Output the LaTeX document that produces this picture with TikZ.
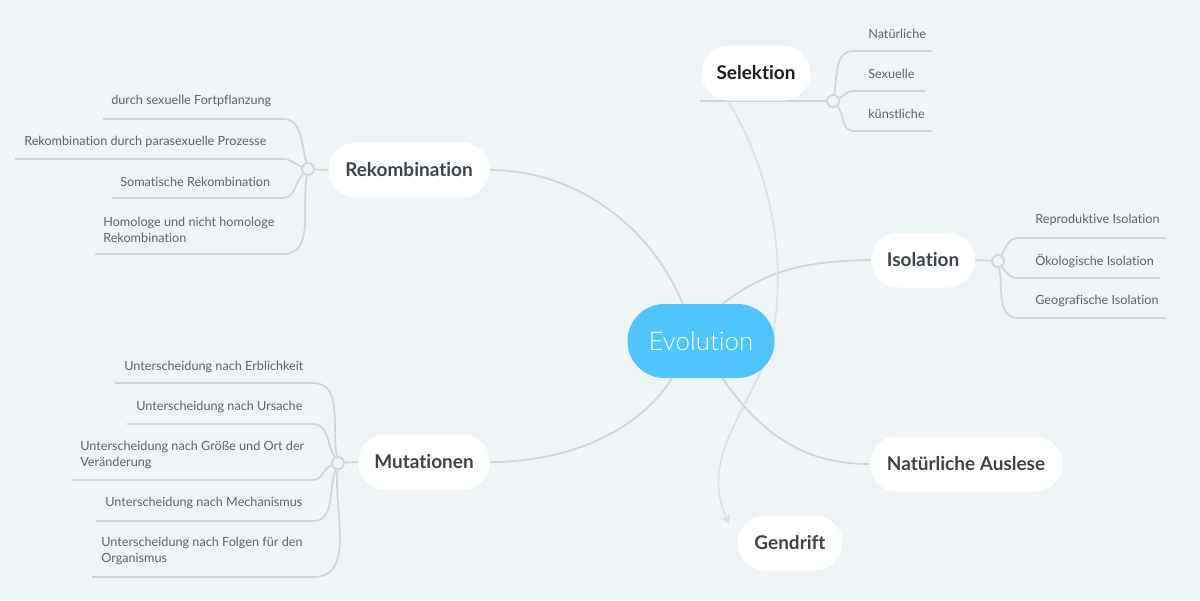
\documentclass[tikz,border=0pt]{standalone}
\usepackage{fontspec}
\setmainfont{Lato}[Ligatures={CommonOff,DiscretionaryOff,ContextualOff}]
\newfontfamily\evofont{Lato Light}[Ligatures={CommonOff,DiscretionaryOff,ContextualOff}]
\usetikzlibrary{arrows.meta,backgrounds}
\definecolor{bg}{RGB}{239,244,247}
\definecolor{linec}{RGB}{208,213,217}
\definecolor{relc}{RGB}{221,225,228}
\definecolor{topictext}{RGB}{60,68,74}
\definecolor{childtext}{RGB}{94,101,107}
\definecolor{evofill}{RGB}{80,196,254}
\begin{document}
\begin{tikzpicture}[x=0.025cm,y=-0.025cm,
  topic/.style={fill=white, rounded corners=0.6875cm, minimum height=1.375cm, inner sep=0pt,
    font=\fontsize{13.5}{16}\selectfont\bfseries, text=topictext},
  evo/.style={fill=evofill, rounded corners=0.925cm, minimum height=1.85cm, minimum width=3.675cm,
    inner sep=0pt, font=\evofont\fontsize{18.4}{21}\selectfont, text=white},
  child/.style={anchor=west, inner sep=0pt, align=left, font=\fontsize{9}{11.3}\selectfont, text=childtext},
  branch/.style={draw=linec, line width=1.2pt},
  rel/.style={draw=relc, line width=1.2pt, -{Stealth[length=0.24cm,width=0.26cm]}},
  hub/.style={circle, draw=linec, fill=bg, line width=1.2pt, minimum size=0.3cm, inner sep=0pt}]
\useasboundingbox (0,0) rectangle (1200,600);

% topics
\node[evo] (evo) at (701,341) {Evolution};
\node[topic, minimum width=4.025cm] (rek) at (409,170) {Rekombination};
\node[topic, minimum width=3.3cm] (mut) at (424,462) {Mutationen};
\node[topic, minimum width=2.725cm, text=black!88] (sel) at (756,73) {Selektion};
\node[topic, minimum width=2.6cm] (iso) at (923,260) {Isolation};
\node[topic, minimum width=4.825cm] (nat) at (966,464) {Natürliche Auslese};
\node[topic, minimum width=2.625cm] (gen) at (790,543) {Gendrift};

% hubs
\node[hub] (h1) at (308,169) {};
\node[hub] (h2) at (338,463) {};
\node[hub] (h3) at (833,101) {};
\node[hub] (h4) at (998,261) {};

% children of Rekombination
\node[child] (r1) at (111,101) {durch sexuelle Fortpflanzung};
\node[child] (r2) at (24,142) {Rekombination durch parasexuelle Prozesse};
\node[child] (r3) at (120,182) {Somatische Rekombination};
\node[child] (r4) at (103,230) {Homologe und nicht homologe\\Rekombination};
% children of Mutationen
\node[child] (m1) at (124,367) {Unterscheidung nach Erblichkeit};
\node[child] (m2) at (136,407) {Unterscheidung nach Ursache};
\node[child] (m3) at (80,455) {Unterscheidung nach Größe und Ort der\\Veränderung};
\node[child] (m4) at (105,503) {Unterscheidung nach Mechanismus};
\node[child] (m5) at (101,551) {Unterscheidung nach Folgen für den\\Organismus};
% children of Selektion
\node[child] (s1) at (868,34) {Natürliche};
\node[child] (s2) at (868,74) {Sexuelle};
\node[child] (s3) at (868,114) {künstliche};
% children of Isolation
\node[child] (i1) at (1035,220) {Reproduktive Isolation};
\node[child] (i2) at (1035,261) {Ökologische Isolation};
\node[child] (i3) at (1035,301) {Geografische Isolation};

% underline coordinates
\coordinate (r1a) at (103,119); \coordinate (r1b) at (283,119);
\coordinate (r2a) at (15,159);  \coordinate (r2b) at (283,159);
\coordinate (r3a) at (112,198); \coordinate (r3b) at (283,198);
\coordinate (r4a) at (95,254);  \coordinate (r4b) at (283,254);
\coordinate (m1a) at (115,383); \coordinate (m1b) at (313,383);
\coordinate (m2a) at (127,424); \coordinate (m2b) at (313,424);
\coordinate (m3a) at (72,480);  \coordinate (m3b) at (313,480);
\coordinate (m4a) at (96,521);  \coordinate (m4b) at (313,521);
\coordinate (m5a) at (92,577);  \coordinate (m5b) at (313,577);
\coordinate (s1b) at (853,51);  \coordinate (s1a) at (932,51);
\coordinate (s2b) at (853,91);  \coordinate (s2a) at (925,91);
\coordinate (s3b) at (853,131); \coordinate (s3a) at (932,131);
\coordinate (i1b) at (1018,238); \coordinate (i1a) at (1166,238);
\coordinate (i2b) at (1018,278); \coordinate (i2a) at (1160,278);
\coordinate (i3b) at (1018,318); \coordinate (i3a) at (1166,318);
\coordinate (selL) at (700,101);
\coordinate (relS) at (728,101);
\coordinate (relE) at (729,524);

\begin{scope}[on background layer]
\fill[bg] (0,0) rectangle (1200,600);
% main branches
\draw[branch] (evo.116) .. controls (650,225) and (575,170) .. (rek.east);
\draw[branch] (evo.60) .. controls (765,272) and (800,261) .. (iso.west);
\draw[branch] (evo.232) .. controls (640,430) and (570,462) .. (mut.east);
\draw[branch] (evo.300) .. controls (765,440) and (810,464) .. (nat.west);
% topic to hub
\draw[branch] (rek.west) -- (h1);
\draw[branch] (mut.west) -- (h2);
\draw[branch] (iso.east) -- (h4);
\draw[branch] (selL) -- (h3);
% hub to children
\draw[branch] (r1a) -- (r1b) to[out=0,in=105] (h1);
\draw[branch] (r2a) -- (r2b) to[out=0,in=160] (h1);
\draw[branch] (r3a) -- (r3b) to[out=0,in=225] (h1);
\draw[branch] (r4a) -- (r4b) to[out=0,in=260] (h1);
\draw[branch] (m1a) -- (m1b) to[out=0,in=100] (h2);
\draw[branch] (m2a) -- (m2b) to[out=0,in=120] (h2);
\draw[branch] (m3a) -- (m3b) to[out=0,in=200] (h2);
\draw[branch] (m4a) -- (m4b) to[out=0,in=250] (h2);
\draw[branch] (m5a) -- (m5b) to[out=0,in=265] (h2);
\draw[branch] (h3) to[out=80,in=180] (s1b) -- (s1a);
\draw[branch] (h3) to[out=25,in=180] (s2b) -- (s2a);
\draw[branch] (h3) to[out=-50,in=180] (s3b) -- (s3a);
\draw[branch] (h4) to[out=60,in=180] (i1b) -- (i1a);
\draw[branch] (h4) to[out=-55,in=180] (i2b) -- (i2a);
\draw[branch] (h4) to[out=-80,in=180] (i3b) -- (i3a);
% relationship
\draw[rel] (relS) .. controls (770,170) and (790,260) .. (770,350) .. controls (745,415) and (700,460) .. (relE);
\end{scope}
\end{tikzpicture}
\end{document}
